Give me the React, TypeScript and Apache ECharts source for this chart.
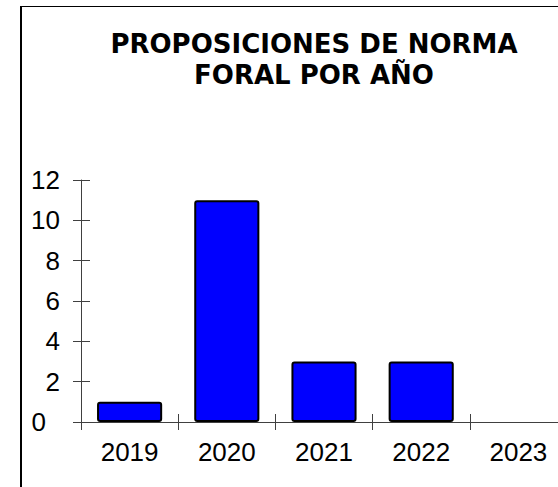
import React, { useEffect, useRef } from "react";
import * as echarts from "echarts";

const titleLines = ["PROPOSICIONES DE NORMA", "FORAL POR AÑO"];
const years = ["2019", "2020", "2021", "2022", "2023"];
const counts = [1, 11, 3, 3, 0];
const yMin = 0;
const yMax = 12;
const yStep = 2;

export default function App() {
  const ref = useRef<HTMLDivElement>(null);
  useEffect(() => {
    if (!ref.current) return;
    const chart = echarts.init(ref.current, null, { renderer: "svg" });
    const axisColor = "#404040";
    const labelFont = { fontFamily: "Liberation Sans, Arial, sans-serif", fontSize: 26, color: "#000" };
    const baseY = {
      type: "value" as const,
      min: yMin,
      max: yMax,
      interval: yStep,
      position: "left" as const,
      splitLine: { show: false },
      axisLine: { show: true, lineStyle: { color: axisColor, width: 1 } },
    };
    const baseX = {
      type: "category" as const,
      data: years,
      position: "bottom" as const,
      boundaryGap: true,
      axisLine: { show: true, onZero: false, lineStyle: { color: axisColor, width: 1 } },
    };
    chart.setOption({
      animation: false,
      backgroundColor: "#ffffff",
      title: {
        text: titleLines.join("\n"),
        left: 314,
        top: 28,
        padding: 0,
        textAlign: "center",
        textStyle: {
          fontFamily: "DejaVu Sans, sans-serif",
          fontWeight: "bold",
          fontSize: 26,
          lineHeight: 31,
          color: "#000",
        },
      },
      graphic: [
        { type: "line", shape: { x1: 21, y1: 6, x2: 21, y2: 487 }, style: { stroke: "#000", lineWidth: 2 } },
        { type: "line", shape: { x1: 20, y1: 6.5, x2: 600, y2: 6.5 }, style: { stroke: "#000", lineWidth: 1 } },
      ],
      grid: { left: 81, right: 33, top: 180, bottom: 65, containLabel: false },
      xAxis: [
        {
          ...baseX,
          axisTick: { show: true, inside: false, length: 8, lineStyle: { color: axisColor } },
          axisLabel: { ...labelFont, margin: 17 },
        },
        {
          ...baseX,
          axisLine: { show: false },
          axisTick: { show: true, inside: true, length: 8, lineStyle: { color: axisColor } },
          axisLabel: { show: false },
        },
      ],
      yAxis: [
        {
          ...baseY,
          axisTick: { show: true, inside: false, length: 8, lineStyle: { color: axisColor } },
          axisLabel: {
            ...labelFont,
            margin: 21,
            formatter: (v: number) => (v === 0 ? "{z|0}" : String(v)),
            rich: { z: { ...labelFont, padding: [0, 14, 0, 0] } },
          },
        },
        {
          ...baseY,
          axisLine: { show: false },
          axisTick: { show: true, inside: true, length: 9, lineStyle: { color: axisColor } },
          axisLabel: { show: false },
        },
      ],
      series: [
        {
          type: "bar",
          xAxisIndex: 0,
          yAxisIndex: 0,
          barCategoryGap: "33%",
          data: counts.map((v) => (v === 0 ? { value: v, itemStyle: { borderWidth: 0 } } : v)),
          itemStyle: { color: "#0000ff", borderColor: "#000", borderWidth: 2, borderRadius: 2 },
        },
      ],
    });
    return () => chart.dispose();
  }, []);
  return (
    <div style={{ position: "fixed", left: 0, top: 0, width: 558, height: 487, overflow: "hidden", background: "#fff" }}>
      <div ref={ref} style={{ width: 600, height: 487 }} />
    </div>
  );
}
